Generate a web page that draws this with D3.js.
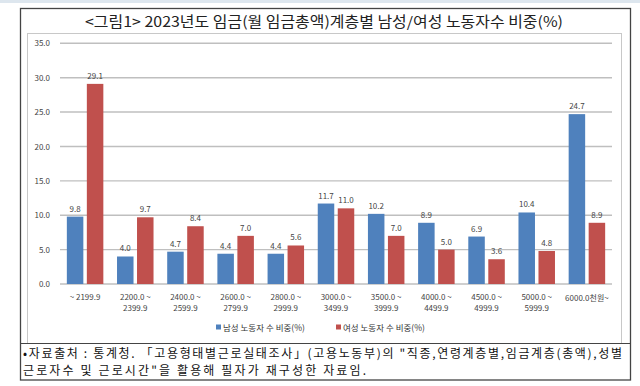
<!DOCTYPE html>
<html><head><meta charset="utf-8">
<script src="https://cdn.jsdelivr.net/npm/d3@7"></script>
<style>
html,body{margin:0;padding:0;background:#fff;}
svg{display:block;}
text{font-family:"Noto Sans CJK KR","Noto Sans",sans-serif;}
</style></head>
<body>
<svg id="c" width="640" height="386"></svg>
<script>
const categories = [["~ 2199.9"],["2200.0 ~","2399.9"],["2400.0 ~","2599.9"],["2600.0 ~","2799.9"],["2800.0 ~","2999.9"],["3000.0 ~","3499.9"],["3500.0 ~","3999.9"],["4000.0 ~","4499.9"],["4500.0 ~","4999.9"],["5000.0 ~","5999.9"],["6000.0천원~"]];
const maleValues = [9.8, 4.0, 4.7, 4.4, 4.4, 11.7, 10.2, 8.9, 6.9, 10.4, 24.7];
const femaleValues = [29.1, 9.7, 8.4, 7.0, 5.6, 11.0, 7.0, 5.0, 3.6, 4.8, 8.9];
const yTicks = [0, 5, 10, 15, 20, 25, 30, 35];
const seriesNames = ["남성 노동자 수 비중(%)", "여성 노동자 수 비중(%)"];
const colors = ["#4F81BD", "#C0504D"];
const title = "<그림1> 2023년도 임금(월 임금총액)계층별 남성/여성 노동자수 비중(%)";
const note1 = "•자료출처 : 통계청. 「고용형태별근로실태조사」(고용노동부)의 \"직종,연령계층별,임금계층(총액),성별";
const note2 = "근로자수 및 근로시간\"을 활용해 필자가 재구성한 자료임.";

const svg = d3.select("#c");
// faint strip at top
svg.append("line").attr("x1",0).attr("x2",640).attr("y1",1.5).attr("y2",1.5).attr("stroke","#dde6ee").attr("stroke-width",3);

// outer frame
svg.append("rect").attr("x",20.5).attr("y",8.5).attr("width",610).attr("height",371.5)
  .attr("fill","none").attr("stroke","#444").attr("stroke-width",1.3);
// title
svg.append("text").attr("x",324).attr("y",27).attr("text-anchor","middle")
  .attr("font-size",14.5).attr("fill","#222").attr("textLength",478).attr("lengthAdjust","spacingAndGlyphs").text(title);
// inner chart box
svg.append("rect").attr("x",27.5).attr("y",33.5).attr("width",594).attr("height",310)
  .attr("fill","none").attr("stroke","#c8c8c8").attr("stroke-width",1);
// footer separator
svg.append("line").attr("x1",20.5).attr("x2",630.5).attr("y1",343.5).attr("y2",343.5).attr("stroke","#444").attr("stroke-width",1.2);

const x = d3.scaleBand().domain(d3.range(categories.length)).range([60, 612]).padding(0);
const y = d3.scaleLinear().domain([0, 35]).range([284, 43.3]);

// gridlines
svg.append("g").selectAll("line").data(yTicks).join("line")
  .attr("x1",60).attr("x2",612).attr("y1",d=>y(d)).attr("y2",d=>y(d))
  .attr("stroke","#bfbfbf").attr("stroke-width",1.4);

// y axis labels
const yAxis = d3.axisLeft(y).tickValues(yTicks).tickFormat(d3.format(".1f")).tickSize(0).tickPadding(0);
const ya = svg.append("g").attr("transform","translate(50,0)").call(yAxis);
ya.select(".domain").remove();
ya.selectAll("text").attr("font-size",8).attr("fill","#444").attr("font-family","'Noto Sans',sans-serif");

const bw = x.bandwidth();
const barW = 16.5, gap = 3.5;
const series = [maleValues, femaleValues];
series.forEach((vals, si) => {
  const g = svg.append("g");
  const xo = i => x(i) + bw/2 + (si === 0 ? -gap/2 - barW : gap/2);
  g.selectAll("rect").data(vals).join("rect")
    .attr("x",(d,i)=>xo(i)).attr("width",barW)
    .attr("y",d=>y(d)).attr("height",d=>y(0)-y(d))
    .attr("fill",colors[si]);
  g.selectAll("text").data(vals).join("text")
    .attr("x",(d,i)=>xo(i)+barW/2).attr("y",d=>y(d)-5)
    .attr("text-anchor","middle").attr("font-size",8).attr("fill","#444")
    .attr("font-family","'Noto Sans',sans-serif")
    .text(d=>d.toFixed(1));
});

// x labels
const xl = svg.append("g");
categories.forEach((lines, i) => {
  const t = xl.append("text").attr("text-anchor","middle").attr("font-size",8).attr("fill","#444")
    .attr("font-family","'Noto Sans CJK KR','Noto Sans',sans-serif");
  const cx = x(i) + bw/2;
  lines.forEach((ln, k) => {
    t.append("tspan").attr("x",cx).attr("y",lines.length===1 && i===categories.length-1 ? 301 : 300 + k*10.5).text(ln);
  });
});

// legend
const leg = [{x:216, name:seriesNames[0], c:colors[0]},{x:336, name:seriesNames[1], c:colors[1]}];
leg.forEach(l => {
  svg.append("rect").attr("x",l.x).attr("y",324.5).attr("width",5).attr("height",5).attr("fill",l.c);
  svg.append("text").attr("x",l.x+7).attr("y",330.5).attr("font-size",8.5).attr("fill","#333").text(l.name);
});

// footnote
svg.append("text").attr("x",23).attr("y",358).attr("font-size",12).attr("fill","#111")
  .attr("textLength",599).attr("lengthAdjust","spacing").text(note1);
svg.append("text").attr("x",23).attr("y",375).attr("font-size",12).attr("fill","#111")
  .attr("textLength",343).attr("lengthAdjust","spacing").text(note2);
</script>
</body></html>
